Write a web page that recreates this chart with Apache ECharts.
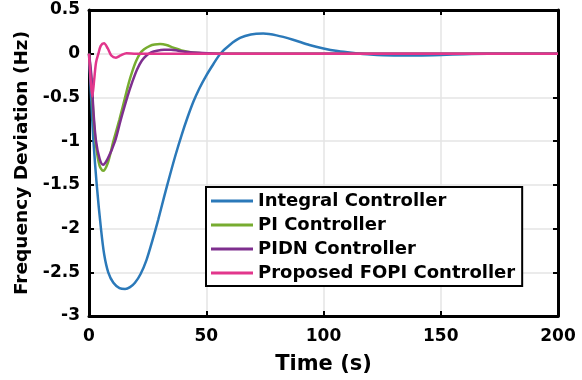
<!DOCTYPE html>
<html>
<head>
<meta charset="utf-8">
<script src="https://cdn.jsdelivr.net/npm/echarts@6/dist/echarts.min.js"></script>
<style>
  html, body { margin: 0; padding: 0; background: #fff; }
  #chart { width: 582px; height: 380px; }
</style>
</head>
<body>
<div id="chart"></div>
<script>
// values
const seriesNames = ['Integral Controller', 'PI Controller', 'PIDN Controller', 'Proposed FOPI Controller']
const seriesColors = ['#2b79b9', '#77ac30', '#7e2f8e', '#e2368c']

const integralT = [0, 1, 1.9, 3.3, 5.1, 6.5, 8.2, 10.4, 13, 15.4, 17.5, 19.6, 22, 24.5, 27, 29.5, 32, 34.5, 37, 39.5, 42, 44.5, 47, 50, 53, 56, 60, 64.4, 69, 74.3, 80, 87, 94, 100, 106, 112, 120, 130, 140, 150, 160, 170, 185, 200]
const integralV = [0, -0.55, -1.0, -1.5, -2.0, -2.3, -2.5, -2.62, -2.68, -2.69, -2.67, -2.62, -2.52, -2.36, -2.14, -1.9, -1.64, -1.39, -1.15, -0.93, -0.73, -0.55, -0.4, -0.25, -0.12, 0, 0.1, 0.18, 0.22, 0.23, 0.21, 0.16, 0.1, 0.06, 0.03, 0.01, -0.01, -0.02, -0.02, -0.015, -0.005, 0, 0, 0]

const piT = [0, 1, 2, 3, 4.5, 6, 8, 10.4, 13, 15.4, 17, 18.5, 20, 21.7, 23.5, 26, 28, 30.3, 33, 36, 40, 44, 50, 58, 70, 200]
const piV = [0, -0.3, -0.75, -1.05, -1.28, -1.34, -1.25, -1.0, -0.75, -0.5, -0.33, -0.2, -0.09, 0, 0.05, 0.09, 0.105, 0.11, 0.1, 0.07, 0.035, 0.015, 0.005, 0, 0, 0]

const pidnT = [0, 1, 2, 3, 4.5, 6, 8, 11.1, 13.5, 16.3, 18.5, 20.5, 22.5, 24.5, 26.5, 29, 32, 35, 38, 42, 47, 55, 70, 200]
const pidnV = [0, -0.25, -0.7, -1.0, -1.2, -1.27, -1.2, -1.0, -0.76, -0.5, -0.32, -0.18, -0.08, -0.02, 0.015, 0.035, 0.045, 0.045, 0.035, 0.02, 0.01, 0, 0, 0]

const fopiT = [0, 0.7, 1.4, 2.2, 3, 4, 5, 6.4, 8, 9.5, 11.5, 13.5, 16, 20, 200]
const fopiV = [0, -0.3, -0.49, -0.3, -0.1, 0, 0.09, 0.12, 0.06, -0.02, -0.045, -0.02, 0.005, 0, 0]

const xTickMin = 0
const xTickMax = 200
const xTickStep = 50
const yTickMin = -3
const yTickMax = 0.5
const yTickStep = 0.5

const zip = (ts, vs) => ts.map((t, i) => [t, vs[i]])
const seriesData = [
  zip(integralT, integralV),
  zip(piT, piV),
  zip(pidnT, pidnV),
  zip(fopiT, fopiV)
]

const font = 'DejaVu Sans'
const boxLine = { show: true, onZero: false, lineStyle: { color: '#000', width: 3 } }
const inTick = { show: true, inside: true, length: 5, lineStyle: { color: '#000', width: 2 } }
const grid = { show: true, lineStyle: { color: '#e4e4e4', width: 1.5 } }

const option = {
  animation: false,
  backgroundColor: '#fff',
  grid: { left: 89, right: 24, top: 10, bottom: 62, containLabel: false },
  legend: {
    orient: 'vertical',
    left: 206,
    top: 187,
    padding: [4, 7, 3, 5],
    itemGap: 4,
    itemWidth: 42,
    itemHeight: 3,
    icon: 'rect',
    backgroundColor: '#fff',
    borderColor: '#000',
    borderWidth: 2,
    borderRadius: 0,
    data: seriesNames,
    textStyle: { fontFamily: font, fontWeight: 'bold', fontSize: 18, color: '#000', lineHeight: 20 }
  },
  xAxis: [
    {
      type: 'value', min: xTickMin, max: xTickMax, interval: xTickStep,
      name: 'Time (s)', nameLocation: 'middle', nameGap: 38,
      nameTextStyle: { fontFamily: font, fontWeight: 'bold', fontSize: 21, color: '#000' },
      axisLine: boxLine, axisTick: inTick, splitLine: grid,
      axisLabel: { fontFamily: font, fontWeight: 'bold', fontSize: 17, color: '#000', margin: 12 }
    },
    {
      type: 'value', position: 'top', min: xTickMin, max: xTickMax, interval: xTickStep,
      axisLine: boxLine, axisTick: inTick, splitLine: { show: false }, axisLabel: { show: false }
    }
  ],
  yAxis: [
    {
      type: 'value', min: yTickMin, max: yTickMax, interval: yTickStep,
      name: 'Frequency Deviation (Hz)', nameLocation: 'middle', nameGap: 56,
      nameTextStyle: { fontFamily: font, fontWeight: 'bold', fontSize: 18.5, color: '#000' },
      axisLine: boxLine, axisTick: inTick, splitLine: grid,
      axisLabel: { fontFamily: font, fontWeight: 'bold', fontSize: 17, color: '#000', margin: 9 }
    },
    {
      type: 'value', position: 'right', min: yTickMin, max: yTickMax, interval: yTickStep,
      axisLine: boxLine, axisTick: inTick, splitLine: { show: false }, axisLabel: { show: false }
    }
  ],
  series: seriesNames.map((name, i) => ({
    name,
    type: 'line',
    data: seriesData[i],
    smooth: 0.3,
    symbol: 'none',
    color: seriesColors[i],
    lineStyle: { width: 2.5, color: seriesColors[i] },
    z: 2 + i
  }))
}

const myChart = echarts.init(document.getElementById('chart'))
myChart.setOption(option)
</script>
</body>
</html>
